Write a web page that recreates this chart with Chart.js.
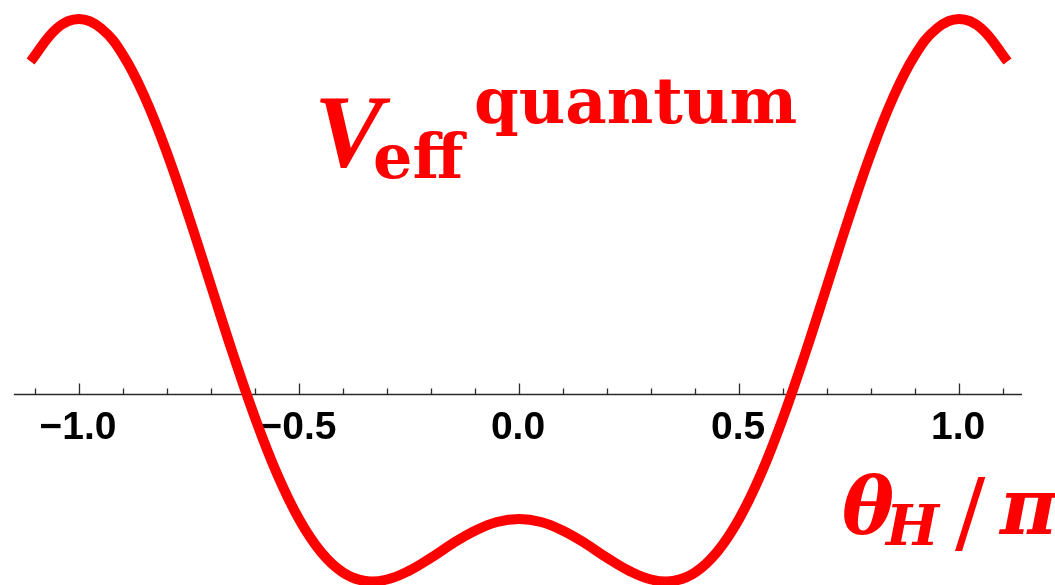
<!DOCTYPE html>
<html>
<head>
<meta charset="utf-8">
<script src="https://cdn.jsdelivr.net/npm/chart.js@4.4.1/dist/chart.umd.min.js"></script>
<style>
    html, body { margin: 0; padding: 0; background: #ffffff; }
    #wrap { position: relative; width: 1055px; height: 585px; }
</style>
</head>
<body>
<div id="wrap"><canvas id="potChart"></canvas></div>
<script>
/* ================= DATA ================= */
const thetaValues = [
    -1.11, -1.05, -1.00, -0.95, -0.90, -0.85, -0.80, -0.75, -0.70, -0.65,
    -0.60, -0.55, -0.50, -0.45, -0.40, -0.35, -0.30, -0.25, -0.20, -0.15,
    -0.10, -0.05, 0.00, 0.05, 0.10, 0.15, 0.20, 0.25, 0.30, 0.35,
    0.40, 0.45, 0.50, 0.55, 0.60, 0.65, 0.70, 0.75, 0.80, 0.85,
    0.90, 0.95, 1.00, 1.05, 1.11
];
const potentialValues = [
    1.33, 1.463, 1.50, 1.463, 1.356, 1.185, 0.964, 0.707, 0.433, 0.160,
    -0.095, -0.319, -0.500, -0.632, -0.714, -0.748, -0.742, -0.707, -0.655, -0.597,
    -0.547, -0.512, -0.500, -0.512, -0.547, -0.597, -0.655, -0.707, -0.742, -0.748,
    -0.714, -0.632, -0.500, -0.319, -0.095, 0.160, 0.433, 0.707, 0.964, 1.185,
    1.356, 1.463, 1.50, 1.463, 1.33
];
const majorTicks = [-1.0, -0.5, 0.0, 0.5, 1.0];
const tickLabels = ['\u22121.0', '\u22120.5', '0.0', '0.5', '1.0'];
const minorTicks = [-1.1, -0.9, -0.8, -0.7, -0.6, -0.4, -0.3, -0.2, -0.1,
    0.1, 0.2, 0.3, 0.4, 0.6, 0.7, 0.8, 0.9, 1.1];

const RED = '#ff0000';

/* ================= AXIS + LABELS PLUGIN ================= */
const axisPlugin = {
    id: 'axisPlugin',
    beforeDatasetsDraw(chart) {
        const ctx = chart.ctx;
        const xs = chart.scales.x;
        const y0 = Math.round(chart.scales.y.getPixelForValue(0)) + 0.5;

        ctx.save();
        ctx.strokeStyle = '#2a2a2a';
        ctx.lineWidth = 1.3;
        ctx.beginPath();
        ctx.moveTo(xs.getPixelForValue(-1.148), y0);
        ctx.lineTo(xs.getPixelForValue(1.143), y0);
        majorTicks.forEach(t => {
            const px = Math.round(xs.getPixelForValue(t)) + 0.5;
            ctx.moveTo(px, y0);
            ctx.lineTo(px, y0 - 11);
        });
        minorTicks.forEach(t => {
            const px = Math.round(xs.getPixelForValue(t)) + 0.5;
            ctx.moveTo(px, y0);
            ctx.lineTo(px, y0 - 6);
        });
        ctx.stroke();

        ctx.fillStyle = '#000000';
        ctx.font = 'bold 39px "Liberation Sans", Arial, sans-serif';
        ctx.textAlign = 'center';
        ctx.textBaseline = 'alphabetic';
        majorTicks.forEach((t, i) => {
            ctx.fillText(tickLabels[i], xs.getPixelForValue(t) - 1, y0 + 44);
        });
        ctx.restore();
    },
    afterDraw(chart) {
        const ctx = chart.ctx;
        ctx.save();
        ctx.fillStyle = RED;
        ctx.textAlign = 'left';
        ctx.textBaseline = 'alphabetic';

        // V_eff^quantum
        ctx.font = 'bold italic 104px "Liberation Serif", serif';
        ctx.fillText('V', 314, 166);
        ctx.font = 'bold 62px "DejaVu Serif", serif';
        ctx.fillText('eff', 373, 178);
        ctx.font = 'bold 64px "DejaVu Serif", serif';
        ctx.fillText('quantum', 474, 123);

        // theta_H / pi
        ctx.font = 'bold italic 78px "DejaVu Serif", serif';
        ctx.fillText('\u03b8', 842, 534);
        ctx.font = 'bold italic 56px "DejaVu Serif", serif';
        ctx.fillText('H', 886, 545);
        ctx.font = '90px "DejaVu Serif", serif';
        ctx.fillText('/', 955, 543);
        ctx.font = 'bold italic 78px "DejaVu Serif", serif';
        ctx.fillText('\u03c0', 1000, 534);
        ctx.restore();
    }
};

/* ================= CHART ================= */
const ctxPot = document.getElementById('potChart').getContext('2d');

const potChart = new Chart(ctxPot, {
    type: 'line',
    data: {
        datasets: [{
            data: thetaValues.map((t, i) => ({ x: t, y: potentialValues[i] })),
            borderColor: RED,
            borderWidth: 10,
            borderCapStyle: 'butt',
            borderJoinStyle: 'round',
            pointRadius: 0,
            tension: 0.4,
            fill: false
        }]
    },
    options: {
        responsive: true,
        maintainAspectRatio: false,
        animation: false,
        layout: { padding: 0 },
        plugins: {
            legend: { display: false },
            tooltip: { enabled: false }
        },
        scales: {
            x: { type: 'linear', display: false, min: -1.1795, max: 1.218 },
            y: { type: 'linear', display: false, min: -0.764, max: 1.576 }
        }
    },
    plugins: [axisPlugin]
});
</script>
</body>
</html>
